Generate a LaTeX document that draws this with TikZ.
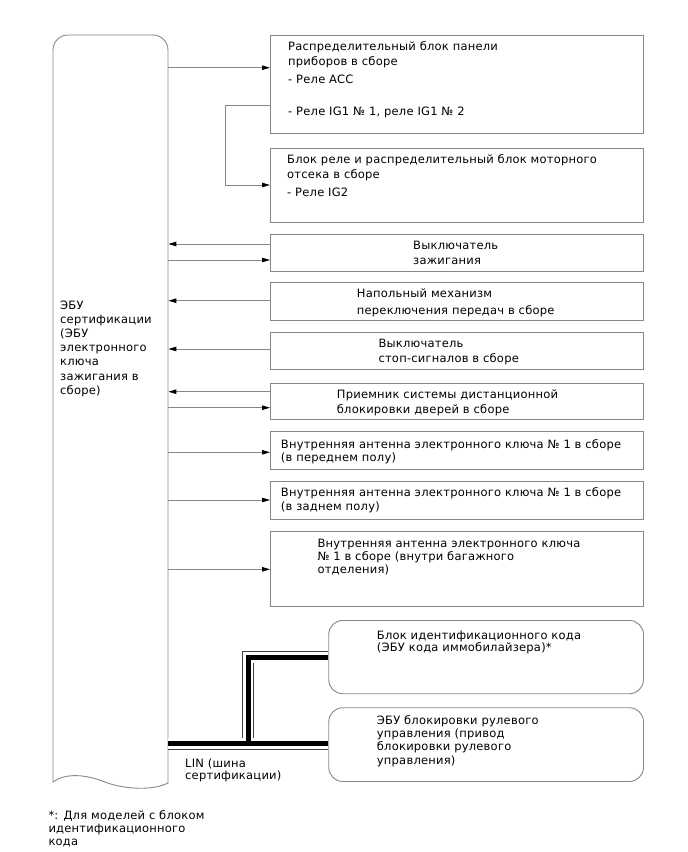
\documentclass[tikz,border=0pt]{standalone}
\usepackage{fontspec}
\setmainfont{DejaVu Sans}[LetterSpace=2]
\usetikzlibrary{arrows.meta}
\definecolor{lc}{RGB}{135,135,135}
\tikzset{
  box/.style={draw=lc, line width=0.9pt, rectangle, inner sep=0pt, anchor=north west, minimum width=373pt},
  rbox/.style={box, rounded corners=14pt, minimum width=314.7pt},
  txt/.style={inner sep=0pt, anchor=base west, align=left, font=\fontsize{11.5}{13.3}\selectfont},
  arr/.style={draw=lc, line width=0.9pt, -{Triangle[length=8pt,width=4.5pt,color=black]}},
}
\begin{document}
\begin{tikzpicture}[x=1pt,y=-1pt]
\useasboundingbox (0,0) rectangle (688,852);
% ECU
\node[inner sep=0pt, minimum width=115pt, minimum height=747pt, anchor=north west] (ecu) at (53,35) {};
\draw[lc, line width=0.9pt] (53,782) -- (53,50) arc[start angle=180, end angle=270, radius=15] -- (153,35)
  arc[start angle=270, end angle=360, radius=15] -- (168,783)
  .. controls (150,792) and (120,788) .. (105,782)
  .. controls (85,774) and (65,773) .. (53,782) -- cycle;
\node[txt, font=\fontsize{11.5}{14.2}\selectfont] (ecut) at (60,394.2) {ЭБУ\\сертификации\\(ЭБУ\\электронного\\ключа\\зажигания в\\сборе)};
% boxes
\node[box, minimum height=98pt] (b1) at (270,35) {};
\node[box, minimum height=74.5pt] (b2) at (270,147.5) {};
\node[box, minimum height=36.5pt] (b3) at (270,234) {};
\node[box, minimum height=38.3pt] (b4) at (270,281.7) {};
\node[box, minimum height=37.6pt] (b5) at (270,331.7) {};
\node[box, minimum height=36.3pt] (b6) at (270,382.7) {};
\node[box, minimum height=38.6pt] (b7) at (270,430.7) {};
\node[box, minimum height=38pt] (b8) at (270,480.7) {};
\node[box, minimum height=74.5pt] (b9) at (270,531) {};
\node[rbox, minimum height=73.3pt] (b10) at (328.3,620) {};
\node[rbox, minimum height=73.7pt] (b11) at (328.3,707.3) {};
% texts (anchor = baseline of last line)
\node[txt] (t1) at (288,115) {Распределительный блок панели\\[1pt]приборов в сборе\\[4.7pt]- Реле ACC\\[18.7pt]- Реле IG1 № 1, реле IG1 № 2};
\node[txt] (t2) at (287,196) {Блок реле и распределительный блок моторного\\[1.7pt]отсека в сборе\\[4.7pt]- Реле IG2};
\node[txt] (t3) at (413,264.7) {Выключатель\\[1.7pt]зажигания};
\node[txt] (t4) at (356.7,314) {Напольный механизм\\[3.4pt]переключения передач в сборе};
\node[txt] (t5) at (378.3,362.3) {Выключатель\\[1.7pt]стоп-сигналов в сборе};
\node[txt] (t6) at (336.7,413.3) {Приемник системы дистанционной\\[2pt]блокировки дверей в сборе};
\node[txt] (t7) at (280.7,461.3) {Внутренняя антенна электронного ключа № 1 в сборе\\(в переднем полу)};
\node[txt] (t8) at (280.7,510) {Внутренняя антенна электронного ключа № 1 в сборе\\(в заднем полу)};
\node[txt] (t9) at (317.3,573.9) {Внутренняя антенна электронного ключа\\№ 1 в сборе (внутри багажного\\отделения)};
\node[txt] (t10) at (376.7,651.7) {Блок идентификационного кода\\[-0.6pt](ЭБУ кода иммобилайзера)*};
\node[txt] (t11) at (376.7,764) {ЭБУ блокировки рулевого\\управления (привод\\блокировки рулевого\\управления)};
\node[txt] (lin) at (185,779) {LIN (шина\\[-1.6pt]сертификации)};
\node[txt] (foot) at (48.3,845) {*: Для моделей с блоком\\идентификационного\\[-0.6pt]кода};
% connectors
\draw[arr] (ecu.east |- 0,67.7) -- (b1.west |- 0,67.7);
\draw[arr] (b1.west |- 0,105.7) -- ++(-44.3,0) |- (b2.west |- 0,185);
\draw[arr] (b3.west |- 0,244) -- (ecu.east |- 0,244);
\draw[arr] (ecu.east |- 0,260) -- (b3.west |- 0,260);
\draw[arr] (b4.west |- 0,300.7) -- (ecu.east |- 0,300.7);
\draw[arr] (b5.west |- 0,349) -- (ecu.east |- 0,349);
\draw[arr] (b6.west |- 0,391.7) -- (ecu.east |- 0,391.7);
\draw[arr] (ecu.east |- 0,407.7) -- (b6.west |- 0,407.7);
\draw[arr] (ecu.east |- 0,452.3) -- (b7.west |- 0,452.3);
\draw[arr] (ecu.east |- 0,500) -- (b8.west |- 0,500);
\draw[arr] (ecu.east |- 0,569.3) -- (b9.west |- 0,569.3);
% LIN bus
\draw[black!75, line width=0.9pt, double=white, double distance=10.5pt]
  (ecu.east |- 0,743.7) -- (b11.west |- 0,743.7)
  (248,743.7) -- (248,657.3) -- (b10.west |- 0,657.3);
\draw[black, line width=5pt]
  (ecu.east |- 0,743.7) -- (b11.west |- 0,743.7)
  (248,743.7) -- (248,657.3) -- (b10.west |- 0,657.3);
\end{tikzpicture}
\end{document}
